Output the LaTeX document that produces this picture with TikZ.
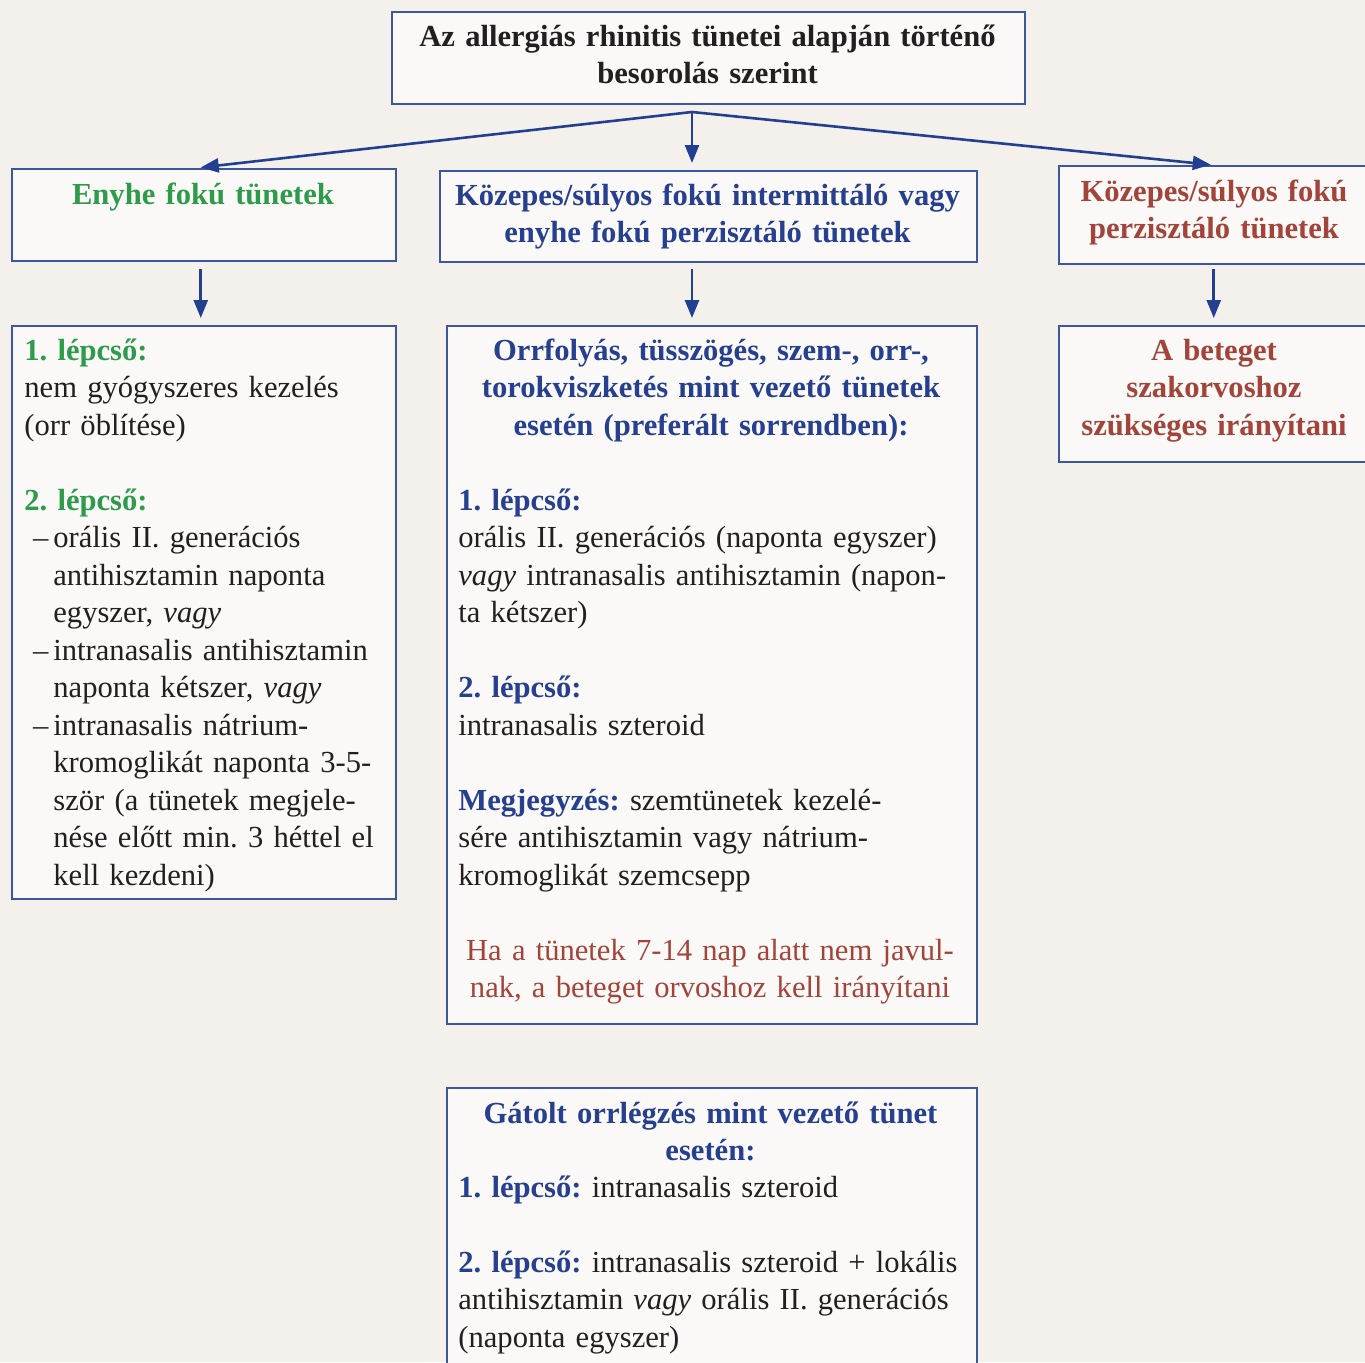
\documentclass[tikz,border=0pt]{standalone}
\usepackage{fontspec}
\setmainfont{Liberation Serif}
\usepackage{tikz}
\usepackage{xcolor}
\usetikzlibrary{arrows.meta, calc, positioning}

\definecolor{hatter}{HTML}{F4F1EC}
\definecolor{dobozbel}{HTML}{FAF9F7}
\definecolor{keret}{HTML}{3C56A0}
\definecolor{nyilszin}{HTML}{233F92}
\definecolor{zold}{HTML}{2E9B4B}
\definecolor{kek}{HTML}{26408F}
\definecolor{piros}{HTML}{A3443A}
\definecolor{fekete}{HTML}{231F20}

\setlength{\parindent}{0pt}
\setlength{\parskip}{0pt}
\frenchspacing
\newcommand{\alap}{\fontsize{15.3pt}{18.75pt}\selectfont\frenchspacing}
\newcommand{\ures}{\\[18.75pt]}
\newcommand{\zoldf}[1]{\textcolor{zold}{\textbf{#1}}}
\newcommand{\kekf}[1]{\textcolor{kek}{\textbf{#1}}}
\newcommand{\tdash}{\makebox[14.5pt][r]{–\hspace{2.5pt}}}
\newcommand{\beh}{\hspace*{14.5pt}}

\tikzset{
    doboz/.style={draw=keret, line width=0.75pt, fill=dobozbel, anchor=north west, inner sep=0pt},
    balszoveg/.style={anchor=base west, inner sep=0pt, align=left, font=\alap, text=fekete},
    kozepszoveg/.style={anchor=base, inner sep=0pt, align=center, font=\alap\bfseries},
    nyil/.style={draw=nyilszin, line width=1.3pt, -{Triangle[length=9pt,width=7pt]}}
}

\begin{document}
\begin{tikzpicture}[x=0.5pt, y=-0.5pt]
                        \useasboundingbox (0,0) rectangle (1365,1362);
                        \clip (0,0) rectangle (1365,1362);
                        \fill[hatter] (0,0) rectangle (1365,1362);

                        \node[doboz, minimum width=316.5pt, minimum height=46pt] (cim) at (391,11) {};
                        \node[doboz, minimum width=192pt, minimum height=46pt] (enyhe) at (11,168) {};
                        \node[doboz, minimum width=268.5pt, minimum height=45.5pt] (kozep) at (439,170) {};
                        \node[doboz, minimum width=156pt, minimum height=49pt] (sulyos) at (1058,165) {};
                        \node[doboz, minimum width=192pt, minimum height=286.5pt] (lepcso) at (11,325) {};
                        \node[doboz, minimum width=265pt, minimum height=349pt] (orrfolyas) at (446,325) {};
                        \node[doboz, minimum width=156pt, minimum height=68pt] (szakorvos) at (1058,325) {};
                        \node[doboz, minimum width=265pt, minimum height=160pt] (gatolt) at (446,1087) {};

                        \node[kozepszoveg, text width=312pt, text=fekete] (cimszoveg) at (707.5,46)
                            {Az allergiás rhinitis tünetei alapján történő\\besorolás szerint};
                        \node[kozepszoveg, text width=188pt, text=zold] (enyheszoveg) at (203,204)
                            {Enyhe fokú tünetek};
                        \node[kozepszoveg, text width=266pt, text=kek] (kozepszov) at (707.5,205)
                            {Közepes/súlyos fokú intermittáló vagy\\enyhe fokú perzisztáló tünetek};
                        \node[kozepszoveg, text width=154pt, text=piros] (sulyosszoveg) at (1214,201)
                            {Közepes/súlyos fokú\\perzisztáló tünetek};

                        \node[balszoveg, text width=184pt] (lepcsoszoveg) at (24,360)
                            {\zoldf{1. lépcső:}\\
                             nem gyógyszeres kezelés\\
                             (orr öblítése)\ures
                             \zoldf{2. lépcső:}\\
                             \tdash orális II. generációs\\
                             \beh antihisztamin naponta\\
                             \beh egyszer, \textit{vagy}\\
                             \tdash intranasalis antihisztamin\\
                             \beh naponta kétszer, \textit{vagy}\\
                             \tdash intranasalis nátrium-\\
                             \beh kromoglikát naponta 3-5-\\
                             \beh ször (a tünetek megjele-\\
                             \beh nése előtt min. 3 héttel el\\
                             \beh kell kezdeni)};

                        \node[kozepszoveg, text width=262pt, text=kek] (orrfejlec) at (711,360)
                            {Orrfolyás, tüsszögés, szem-, orr-,\\torokviszketés mint vezető tünetek\\esetén (preferált sorrendben):};
                        \node[balszoveg, text width=256pt] (orrszoveg) at (458,510)
                            {\kekf{1. lépcső:}\\
                             orális II. generációs (naponta egyszer)\\
                             \textit{vagy} intranasalis antihisztamin (napon-\\
                             ta kétszer)\ures
                             \kekf{2. lépcső:}\\
                             intranasalis szteroid\ures
                             \kekf{Megjegyzés:} szemtünetek kezelé-\\
                             sére antihisztamin vagy nátrium-\\
                             kromoglikát szemcsepp};
                        \node[kozepszoveg, text width=262pt, text=piros, font=\alap\mdseries] (orvoshoz) at (710,960)
                            {Ha a tünetek 7-14 nap alatt nem javul-\\nak, a beteget orvoshoz kell irányítani};

                        \node[kozepszoveg, text width=154pt, text=piros] (szakszoveg) at (1214,360)
                            {A beteget\\szakorvoshoz\\szükséges irányítani};

                        \node[kozepszoveg, text width=262pt, text=kek] (gatoltfejlec) at (710.5,1123)
                            {Gátolt orrlégzés mint vezető tünet\\esetén:};
                        \node[balszoveg, text width=256pt] (gatoltszoveg) at (458,1197)
                            {\kekf{1. lépcső:} intranasalis szteroid\ures
                             \kekf{2. lépcső:} intranasalis szteroid + lokális\\
                             antihisztamin \textit{vagy} orális II. generációs\\
                             (naponta egyszer)};

                        \coordinate (elagazas) at (692,112);
                        \draw[nyil, shorten >=2.5pt] (elagazas) -- ([xshift=-4pt]enyhe.north);
                        \draw[nyil, shorten >=3.5pt] (elagazas) -- (elagazas |- kozep.north);
                        \draw[nyil, shorten >=1.5pt] (elagazas) -- ([xshift=-0.5pt]sulyos.north);
                        \draw[nyil, shorten <=3.5pt, shorten >=3.5pt] ([xshift=-1.5pt]enyhe.south) -- ([xshift=-1.5pt]lepcso.north);
                        \draw[nyil, shorten <=3pt, shorten >=3.5pt] (elagazas |- kozep.south) -- (elagazas |- orrfolyas.north);
                        \draw[nyil, shorten <=2pt, shorten >=3.5pt] ([xshift=-0.5pt]sulyos.south) -- ([xshift=-0.5pt]szakorvos.north);
                    \end{tikzpicture}
\end{document}
